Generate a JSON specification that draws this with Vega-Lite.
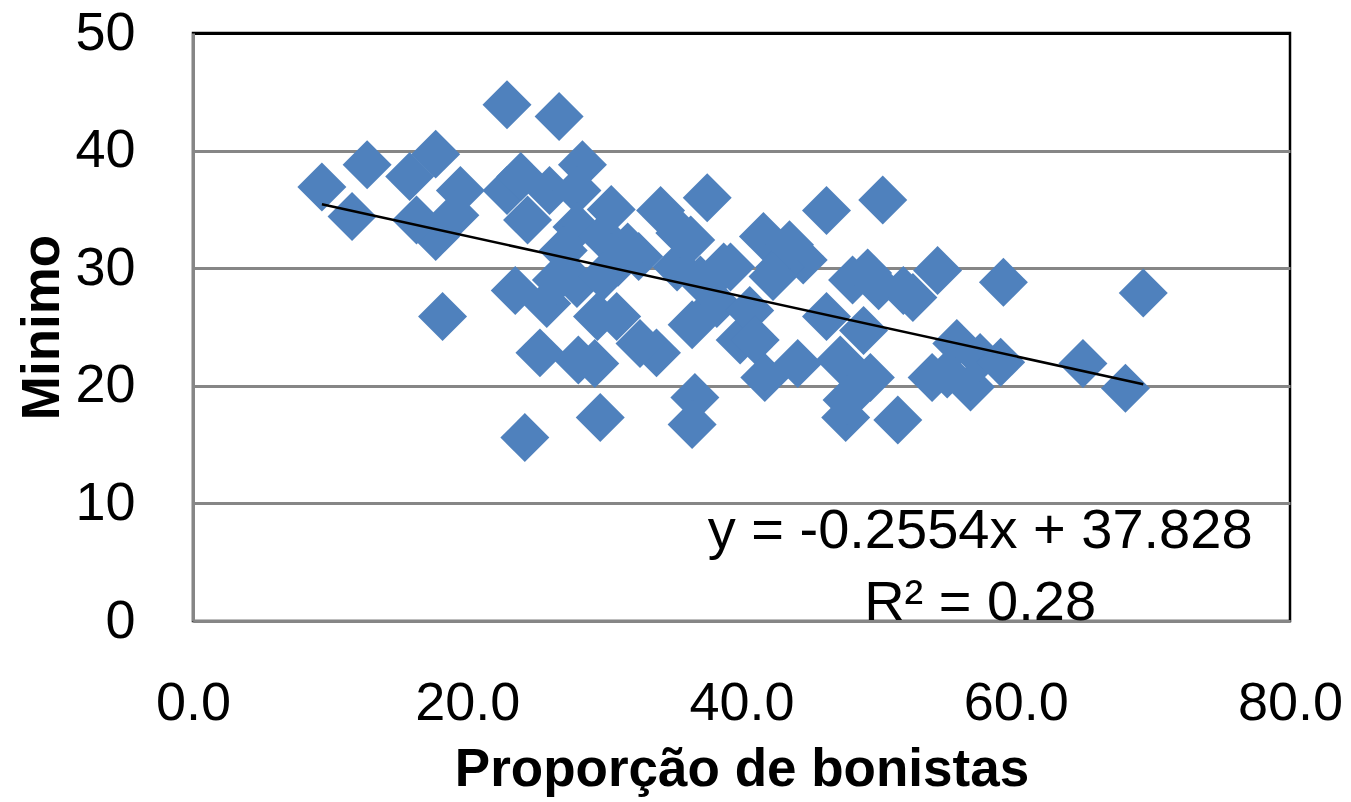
{
  "$schema": "https://vega.github.io/schema/vega-lite/v6.json",
  "width": 1097,
  "height": 588,
  "autosize": {"type": "none"},
  "padding": {"left": 193, "top": 33, "right": 61, "bottom": 181},
  "background": "white",
  "config": {
    "view": {"stroke": "black", "strokeWidth": 2.5},
    "font": "Liberation Sans"
  },
  "datasets": {
    "pts": [
      {"p": 9.4, "m": 36.9}, {"p": 11.6, "m": 34.4}, {"p": 12.7, "m": 38.8}, {"p": 15.8, "m": 37.8},
      {"p": 17.7, "m": 39.7}, {"p": 19.5, "m": 36.6}, {"p": 17.7, "m": 32.7}, {"p": 16.3, "m": 34.1},
      {"p": 19.1, "m": 34.5}, {"p": 22.9, "m": 43.9}, {"p": 22.9, "m": 36.6}, {"p": 18.2, "m": 25.9},
      {"p": 23.5, "m": 28.1}, {"p": 24.2, "m": 15.6}, {"p": 26.7, "m": 42.9}, {"p": 28.4, "m": 38.8},
      {"p": 23.9, "m": 37.8}, {"p": 26.0, "m": 36.6}, {"p": 28.0, "m": 36.6}, {"p": 24.4, "m": 34.1},
      {"p": 28.0, "m": 33.5}, {"p": 29.9, "m": 32.7}, {"p": 31.7, "m": 31.8}, {"p": 34.1, "m": 34.9},
      {"p": 37.5, "m": 36.0}, {"p": 36.3, "m": 32.4}, {"p": 38.7, "m": 30.1}, {"p": 35.3, "m": 30.1},
      {"p": 25.3, "m": 22.8}, {"p": 29.3, "m": 21.9}, {"p": 28.1, "m": 22.2}, {"p": 29.7, "m": 17.3},
      {"p": 36.6, "m": 19.0}, {"p": 36.4, "m": 16.7}, {"p": 33.8, "m": 22.8}, {"p": 32.6, "m": 23.6},
      {"p": 30.9, "m": 25.9}, {"p": 29.5, "m": 25.9}, {"p": 25.8, "m": 27.0}, {"p": 36.4, "m": 25.2},
      {"p": 38.2, "m": 27.0}, {"p": 39.9, "m": 23.9}, {"p": 28.0, "m": 28.7}, {"p": 29.9, "m": 29.3},
      {"p": 46.2, "m": 34.9}, {"p": 50.3, "m": 35.8}, {"p": 41.6, "m": 32.7}, {"p": 44.5, "m": 30.7},
      {"p": 42.8, "m": 30.1}, {"p": 49.2, "m": 29.6}, {"p": 54.3, "m": 29.8}, {"p": 39.2, "m": 30.1},
      {"p": 42.3, "m": 29.3}, {"p": 48.1, "m": 29.0}, {"p": 51.8, "m": 28.1}, {"p": 46.2, "m": 25.9},
      {"p": 48.9, "m": 24.7}, {"p": 40.6, "m": 26.4}, {"p": 41.0, "m": 23.9}, {"p": 41.7, "m": 20.7},
      {"p": 44.1, "m": 21.9}, {"p": 47.2, "m": 22.2}, {"p": 49.4, "m": 20.7}, {"p": 47.6, "m": 17.3},
      {"p": 51.4, "m": 17.1}, {"p": 53.9, "m": 20.7}, {"p": 55.7, "m": 23.6}, {"p": 47.7, "m": 18.8},
      {"p": 59.1, "m": 28.8}, {"p": 69.3, "m": 27.9}, {"p": 64.9, "m": 21.9}, {"p": 68.0, "m": 19.8},
      {"p": 56.7, "m": 19.9}, {"p": 57.4, "m": 22.4}, {"p": 58.9, "m": 22.0}, {"p": 30.5, "m": 35.0},
      {"p": 32.5, "m": 31.0}, {"p": 27.0, "m": 31.5}, {"p": 31.0, "m": 30.5}, {"p": 35.5, "m": 33.0},
      {"p": 37.0, "m": 29.0}, {"p": 50.0, "m": 28.5}, {"p": 52.5, "m": 27.5}, {"p": 43.5, "m": 32.0},
      {"p": 26.5, "m": 29.0}, {"p": 55.0, "m": 21.0}
    ],
    "trend": [
      {"p": 9.4, "m": 35.43},
      {"p": 69.3, "m": 20.13}
    ],
    "notes": [
      {"label": "y = -0.2554x + 37.828", "p": 57.4, "m": 6.2},
      {"label": "R² = 0.28", "p": 57.4, "m": 0.1}
    ]
  },
  "layer": [
    {
      "data": {"name": "pts"},
      "mark": {"type": "point", "shape": "diamond", "filled": true, "size": 2400, "color": "#4F81BD", "opacity": 1, "strokeWidth": 0},
      "encoding": {
        "x": {
          "field": "p", "type": "quantitative",
          "scale": {"domain": [0, 80], "nice": false, "zero": false},
          "axis": {
            "title": "Proporção de bonistas",
            "values": [0, 20, 40, 60, 80],
            "format": ".1f",
            "grid": false,
            "ticks": false,
            "tickSize": 0,
            "domainColor": "#868686",
            "domainWidth": 3,
            "labelFontSize": 54,
            "labelColor": "black",
            "labelPadding": 55,
            "labelFlush": false,
            "labelOverlap": false,
            "titleFontSize": 53,
            "titleFontWeight": "bold",
            "titleColor": "black",
            "titlePadding": 13
          }
        },
        "y": {
          "field": "m", "type": "quantitative",
          "scale": {"domain": [0, 50], "nice": false, "zero": false},
          "axis": {
            "title": "Minimo",
            "values": [0, 10, 20, 30, 40, 50],
            "grid": true,
            "gridColor": {"condition": {"test": "datum.value === 50", "value": "black"}, "value": "#868686"},
            "gridWidth": 3,
            "ticks": false,
            "tickSize": 0,
            "domainColor": "#868686",
            "domainWidth": 3,
            "labelFontSize": 54,
            "labelColor": "black",
            "labelPadding": 58,
            "labelFlush": false,
            "labelOverlap": false,
            "titleFontSize": 53,
            "titleFontWeight": "bold",
            "titleColor": "black",
            "titlePadding": 5
          }
        }
      }
    },
    {
      "data": {"name": "trend"},
      "mark": {"type": "line", "color": "black", "strokeWidth": 2.5},
      "encoding": {
        "x": {"field": "p", "type": "quantitative"},
        "y": {"field": "m", "type": "quantitative"}
      }
    },
    {
      "data": {"name": "notes"},
      "mark": {"type": "text", "fontSize": 56, "color": "black", "align": "center", "baseline": "alphabetic", "clip": false},
      "encoding": {
        "x": {"field": "p", "type": "quantitative"},
        "y": {"field": "m", "type": "quantitative"},
        "text": {"field": "label"}
      }
    }
  ]
}
